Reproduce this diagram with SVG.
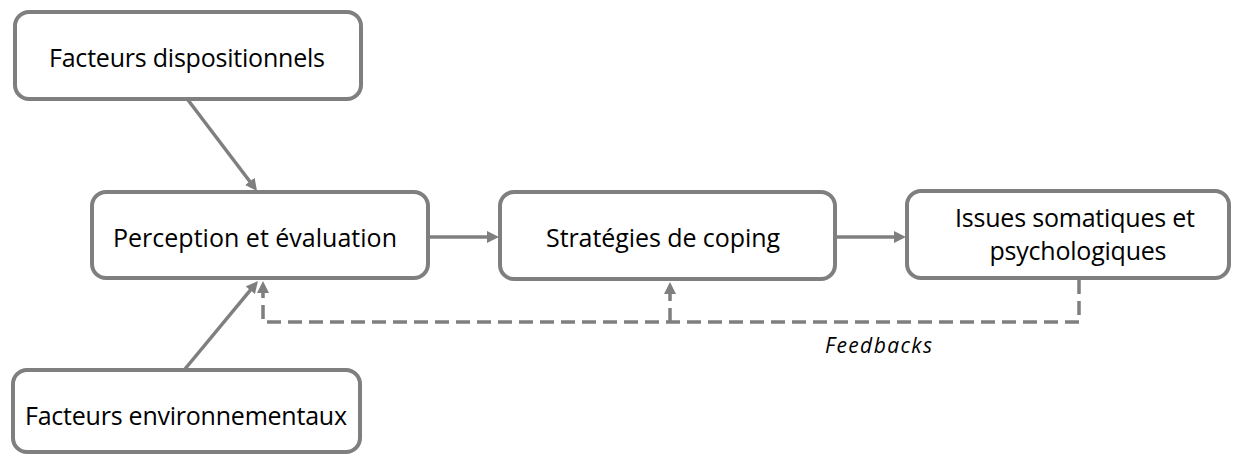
<svg xmlns="http://www.w3.org/2000/svg" width="1233" height="456" viewBox="0 0 1233 456">
  <style>
    .box { fill: #ffffff; stroke: #7f7f7f; stroke-width: 4; }
    .lbl { font-family: "Open Sans", "Liberation Sans", sans-serif; font-size: 25px; fill: #000000; text-anchor: middle; }
    .conn { stroke: #7f7f7f; stroke-width: 3.5; fill: none; }
    .dash { stroke-dasharray: 14 7; }
    .note { font-family: "Open Sans", "Liberation Sans", sans-serif; font-size: 21px; font-style: italic; fill: #000000; }
  </style>
  <defs>
    <marker id="arr" markerUnits="userSpaceOnUse" markerWidth="13" markerHeight="13" refX="2" refY="6" orient="auto" viewBox="0 0 13 13">
      <path d="M0,0 L12,6 L0,12 z" fill="#7f7f7f"/>
    </marker>
  </defs>
  <rect width="1233" height="456" fill="#ffffff"/>

  <g id="connectors">
    <line class="conn" x1="188" y1="100" x2="251" y2="183" marker-end="url(#arr)"/>
    <line class="conn" x1="185" y1="369" x2="251.6" y2="288.7" marker-end="url(#arr)"/>
    <line class="conn" x1="428" y1="237" x2="489" y2="237" marker-end="url(#arr)"/>
    <line class="conn" x1="835" y1="237" x2="896" y2="237" marker-end="url(#arr)"/>
    <path class="conn dash" d="M1079,280 V322 H263 V291" marker-end="url(#arr)"/>
    <path class="conn dash" d="M670,322 V292" marker-end="url(#arr)"/>
  </g>

  <g id="n_dispositionnels">
    <rect class="box" x="15" y="12" width="346" height="87" rx="14"/>
    <text class="lbl" x="187" y="67" textLength="276">Facteurs dispositionnels</text>
  </g>
  <g id="n_perception">
    <rect class="box" x="92" y="192" width="336" height="86" rx="14"/>
    <text class="lbl" x="255" y="247" textLength="284">Perception et évaluation</text>
  </g>
  <g id="n_strategies">
    <rect class="box" x="500" y="192" width="335" height="87" rx="14"/>
    <text class="lbl" x="663" y="247" textLength="234">Stratégies de coping</text>
  </g>
  <g id="n_issues">
    <rect class="box" x="907" y="191" width="322" height="87" rx="14"/>
    <text class="lbl" x="1075" y="227" textLength="240">Issues somatiques et</text>
    <text class="lbl" x="1078" y="260" textLength="177">psychologiques</text>
  </g>
  <g id="n_environnementaux">
    <rect class="box" x="13" y="370" width="347" height="82" rx="14"/>
    <text class="lbl" x="186" y="425" textLength="322">Facteurs environnementaux</text>
  </g>
  <g id="feedback_label">
    <text class="note" x="825" y="353" textLength="107">Feedbacks</text>
  </g>
</svg>
